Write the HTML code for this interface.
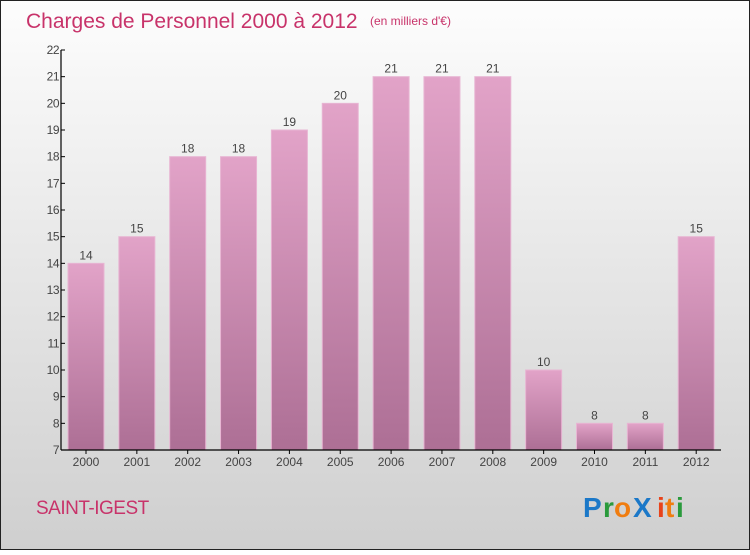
<!DOCTYPE html>
<html><head><meta charset="utf-8">
<style>
html,body{margin:0;padding:0;}
body{width:750px;height:550px;overflow:hidden;font-family:"Liberation Sans",sans-serif;}
</style></head>
<body>
<svg id="chart" width="750" height="550" viewBox="0 0 750 550" xmlns="http://www.w3.org/2000/svg">
<defs>
<linearGradient id="bg" x1="0" y1="0" x2="0" y2="1">
<stop offset="0" stop-color="#fdfdfd"/><stop offset="1" stop-color="#cfcfcf"/>
</linearGradient>
<linearGradient id="bar" x1="0" y1="0" x2="0" y2="1">
<stop offset="0" stop-color="#e2a3c8"/><stop offset="1" stop-color="#ad6f95"/>
</linearGradient>
</defs>
<rect x="0.5" y="0.5" width="749" height="549" fill="url(#bg)" stroke="#222" stroke-width="1"/>
<text x="26" y="28" font-size="21" fill="#c8336a">Charges de Personnel 2000 à 2012</text>
<text x="370" y="25" font-size="12" fill="#c8336a">(en milliers d'€)</text>
<g id="bars"></g>
<g id="axes"></g>
<text x="36" y="514" font-size="19" fill="#c8336a" letter-spacing="-0.5">SAINT-IGEST</text>
<g font-size="28" font-weight="bold" font-family="'Liberation Sans',sans-serif">
<text x="583" y="517" fill="#1b78c8">P</text>
<text x="603" y="517" fill="#2a9a3c">r</text>
<text x="614" y="517" fill="#f07d10">o</text>
<text x="633" y="517" fill="#1b78c8">X</text>
<text x="657" y="517" fill="#e8431a">i</text>
<text x="665" y="517" fill="#f07d10">t</text>
<text x="676" y="517" fill="#2a9a3c">i</text>
</g>
</svg>
<script>
const years = ["2000","2001","2002","2003","2004","2005","2006","2007","2008","2009","2010","2011","2012"];
const values = [14,15,18,18,19,20,21,21,21,10,8,8,15];
const yTicks = [7,8,9,10,11,12,13,14,15,16,17,18,19,20,21,22];
(function(){
const NS="http://www.w3.org/2000/svg";
const yMin=7,yMax=22,plotTop=50,plotBottom=450,plotLeft=61,plotRight=721;
const yS=v=>plotBottom-(v-yMin)/(yMax-yMin)*(plotBottom-plotTop);
const step=50.85, first=86;
const xS=i=>first+i*step;
const bw=36;
const bars=document.getElementById('bars'), axes=document.getElementById('axes');
function mk(tag,attrs,parent){const e=document.createElementNS(NS,tag);for(const k in attrs)e.setAttribute(k,attrs[k]);parent.appendChild(e);return e;}
values.forEach((v,i)=>{
  const r=mk('rect',{x:xS(i)-bw/2,y:yS(v),width:bw,height:plotBottom-yS(v),fill:'url(#bar)',stroke:'#e8b5d3','stroke-width':1},bars);
  
  
  const t=mk('text',{x:xS(i),y:yS(v)-4,'text-anchor':'middle','font-size':12,fill:'#444'},bars);
  t.textContent=v;
  
  
  const xl=mk('text',{x:xS(i),y:466,'text-anchor':'middle','font-size':12,fill:'#444'},axes);
  xl.textContent=years[i];
  
  
  const xt=mk('line',{x1:xS(i),x2:xS(i),y1:plotBottom,y2:plotBottom+4,stroke:'#000'},axes);
  
  
});
const ya=mk('line',{x1:plotLeft,x2:plotLeft,y1:plotTop,y2:plotBottom,stroke:'#000','stroke-width':1.2},axes);


const xa=mk('line',{x1:plotLeft,x2:plotRight,y1:plotBottom,y2:plotBottom,stroke:'#000','stroke-width':1.2},axes);


yTicks.forEach(v=>{
  const tk=mk('line',{x1:plotLeft,x2:plotLeft+4,y1:yS(v),y2:yS(v),stroke:'#000'},axes);
  
  
  const tl=mk('text',{x:plotLeft-2,y:yS(v)+4,'text-anchor':'end','font-size':12,fill:'#444','letter-spacing':'-0.5'},axes);
  tl.textContent=v;
  
  
});
})();
</script>
</body></html>
